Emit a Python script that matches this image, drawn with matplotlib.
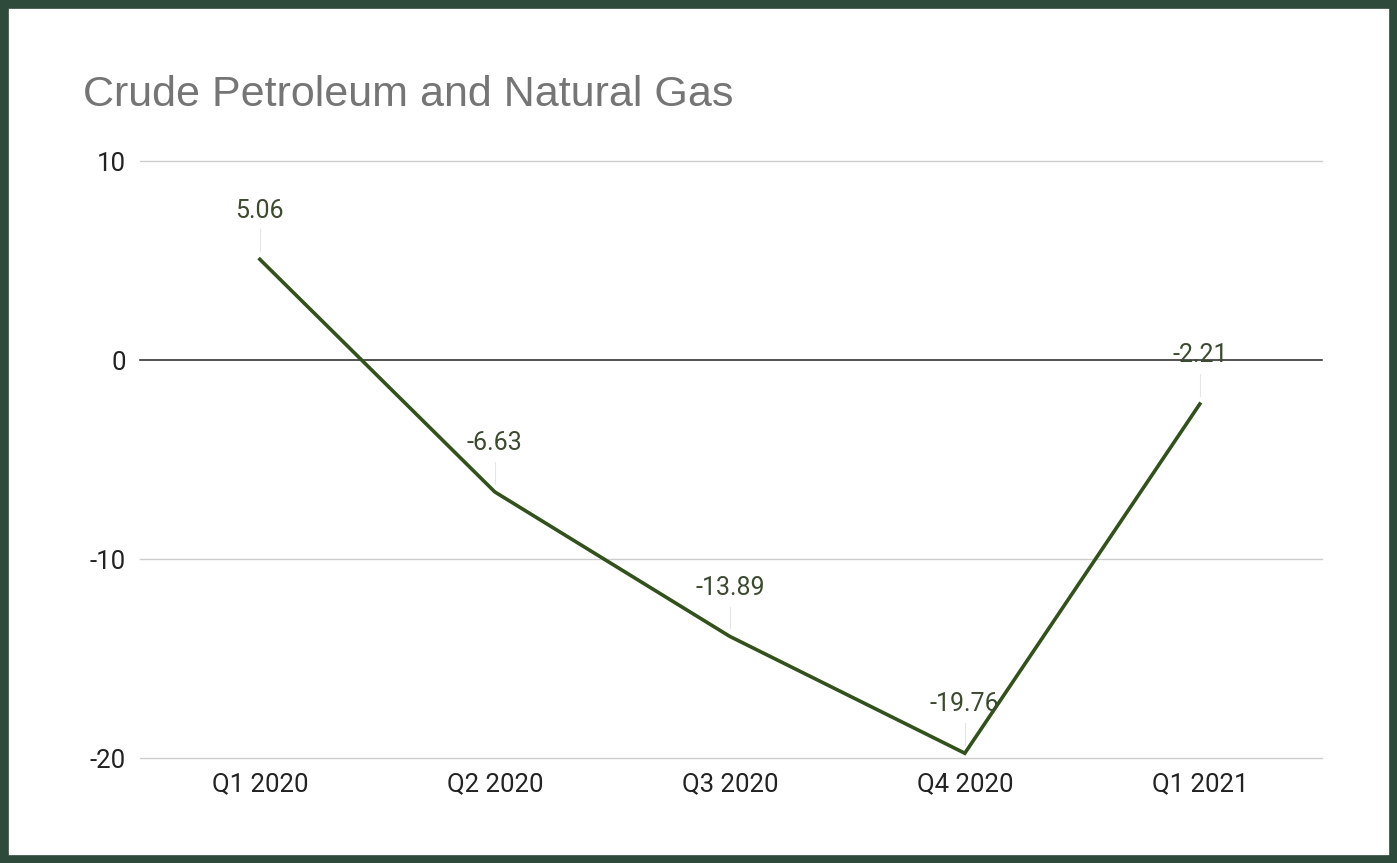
import matplotlib
matplotlib.use("Agg")
import matplotlib.pyplot as plt
from matplotlib.patches import Rectangle

plt.rcParams["font.family"] = ["Roboto", "DejaVu Sans"]
plt.rcParams["axes.unicode_minus"] = False

quarters = ["Q1 2020", "Q2 2020", "Q3 2020", "Q4 2020", "Q1 2021"]
values = [5.06, -6.63, -13.89, -19.76, -2.21]
yticks = [10, 0, -10, -20]

LINE = "#33511d"
BORDER = "#2d4a3a"

fig = plt.figure(figsize=(13.97, 8.63), dpi=100)
W, H = 1397, 863
# dark frame round the chart
fig.patches.append(Rectangle((0, 0), 1, 1, transform=fig.transFigure,
                             facecolor="white", edgecolor=BORDER, lw=12,
                             zorder=-1))

ax = fig.add_axes([140 / W, 1 - 758 / H, (1322 - 140) / W, (758 - 161) / H])
x = list(range(len(quarters)))
ax.plot(x, values, color=LINE, lw=2.6, zorder=3, solid_joinstyle="miter")

for xi, v in zip(x, values):
    ax.plot([xi, xi], [v + 0.4, v + 1.5], color="#e6e6e6", lw=0.8, zorder=1)
    ax.text(xi, v + 2.45, f"{v:.2f}", ha="center", va="center",
            fontsize=18, color="#3c4a30", zorder=4)

ax.set_xlim(-0.51, 4.52)
ax.set_ylim(-20, 10)
ax.set_yticks(yticks)
ax.set_xticks(x)
ax.set_xticklabels(quarters)
for t in yticks:
    if t == 0:
        ax.axhline(t, color="#222222", lw=1.1, zorder=2, clip_on=False)
    else:
        ax.axhline(t, color="#cccccc", lw=1.0, zorder=0, clip_on=False)
for s in ax.spines.values():
    s.set_visible(False)
ax.tick_params(length=0, labelsize=18.5, colors="#222222")
ax.tick_params(axis="y", pad=10)
ax.tick_params(axis="x", pad=10)

fig.text(83 / W, 1 - 95 / H, "Crude Petroleum and Natural Gas",
         fontsize=31, color="#757575", ha="left", va="center",
         family=["Liberation Sans", "DejaVu Sans"])

fig.savefig("out.png", dpi=100)
